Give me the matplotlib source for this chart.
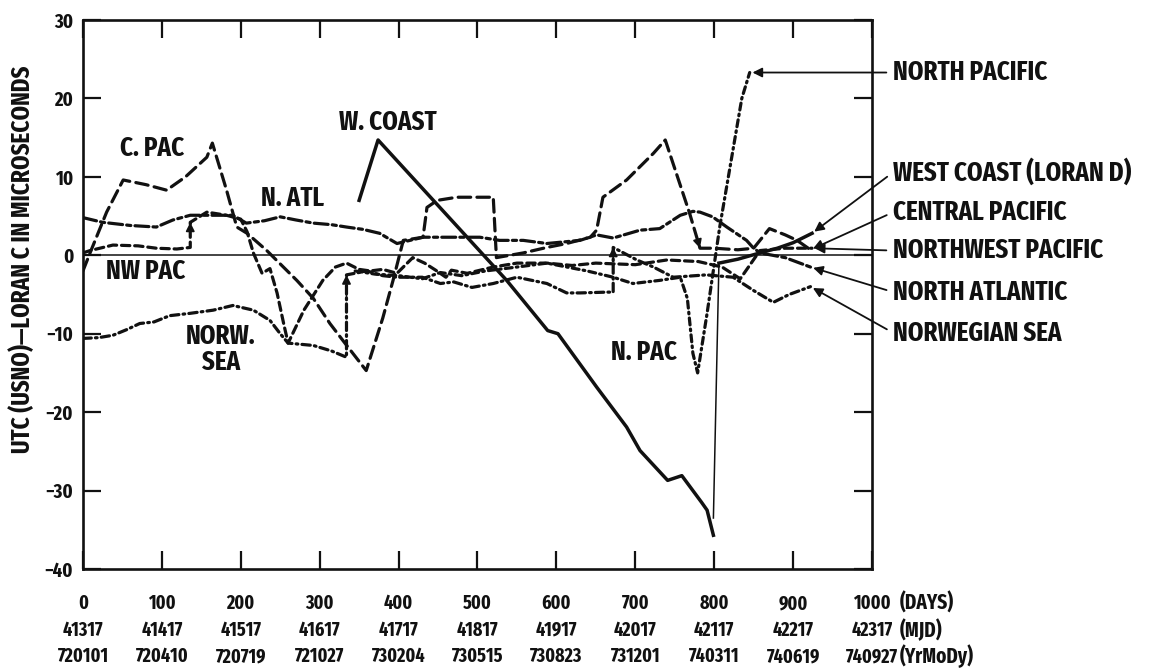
import os
import matplotlib
matplotlib.use("Agg")
import matplotlib.pyplot as plt
from matplotlib import font_manager
from matplotlib.font_manager import FontProperties

# the scan uses a heavy condensed gothic: look for the closest installed face


def _score(f):
    n = os.path.basename(f.fname).lower()
    if f.style != "normal" or "italic" in n:
        return -1
    if "extracondensed" in n:
        s = 3
    elif "semicondensed" in n:
        s = 1
    elif "condensed" in n or "narrow" in n:
        s = 2
    else:
        return -1
    w = f.weight if isinstance(f.weight, int) else 400
    s += {700: 3, 800: 2.6, 900: 2.2, 600: 1.5}.get(w, 0)
    return s


_fonts = sorted(font_manager.fontManager.ttflist, key=_score, reverse=True)
if _fonts and _score(_fonts[0]) >= 4:
    FONT_FILE = _fonts[0].fname
    FS = 14
    BIG = 19.5
else:
    FONT_FILE = None
    FS = 11
    BIG = 14

INK = "#111111"
plt.rcParams["lines.scale_dashes"] = False


def fp(size=None):
    size = size or FS
    if FONT_FILE:
        return FontProperties(fname=FONT_FILE, size=size)
    return FontProperties(family="DejaVu Sans", weight="bold", size=size)


# ---- data (days since 1972-01-01, microseconds) ----
CPAC_DAYS = [0, 9, 30, 51, 80, 106, 130, 157, 164, 182, 195, 208, 233, 271, 292, 313, 332, 359,
             380, 393, 406, 431, 436, 449, 474, 520, 524, 558, 588, 613, 643, 651, 659, 689, 723,
             738, 769, 782, 800, 830, 850, 870, 890, 905, 922]
CPAC_VALS = [-2.0, 0.3, 5.5, 9.6, 9.0, 8.3, 10.0, 12.5, 14.3, 8.3, 3.6, 2.8, 0.6, -3.2, -5.5, -8.7,
             -11.2, -14.7, -8.0, -3.2, 1.9, 2.3, 6.1, 7.0, 7.4, 7.4, -0.3, 0.3, 1.0, 1.5, 2.3, 3.2,
             7.4, 9.6, 13.0, 14.7, 5.3, 0.9, 0.9, 0.7, 0.9, 3.4, 2.6, 1.9, 0.7]

NWPAC_DAYS = [0, 9, 38, 70, 93, 119, 136, 136, 157, 182, 200, 208, 216, 227, 237, 246, 255, 260,
              280, 304, 320, 334, 350, 364, 380, 398, 418, 433, 447, 460, 467, 487, 520, 550, 588,
              620, 650, 700, 740, 780, 810, 833, 858, 890, 924]
NWPAC_VALS = [0.3, 0.6, 1.3, 1.2, 0.9, 0.8, 1.0, 4.2, 5.5, 5.1, 4.6, 3.0, 0.3, -2.3, -1.7, -4.8,
              -9.0, -11.2, -7.0, -3.2, -1.5, -1.0, -1.8, -2.0, -1.8, -2.3, -0.3, -1.0, -1.9, -2.8,
              -1.9, -2.3, -1.5, -1.0, -1.0, -1.3, -1.0, -1.2, -0.6, -0.8, -1.5, -3.0, 0.6, 0.9, 0.9]

NATL_DAYS = [0, 25, 60, 93, 114, 136, 165, 190, 207, 230, 250, 270, 292, 315, 334, 355, 376, 398,
             431, 460, 487, 503, 528, 558, 588, 630, 651, 672, 706, 731, 757, 773, 782, 798, 816,
             841, 849, 858, 890, 922]
NATL_VALS = [4.8, 4.2, 3.8, 3.6, 4.5, 5.1, 5.1, 5.1, 4.1, 4.4, 4.9, 4.5, 4.1, 3.9, 3.6, 3.3, 2.8,
             1.5, 2.3, 2.3, 2.3, 2.3, 1.9, 1.9, 1.5, 1.9, 2.6, 2.2, 3.2, 3.4, 5.1, 5.6, 5.5, 4.9,
             3.6, 1.9, 1.0, 0.3, -0.3, -1.5]

NORW_DAYS = [0, 20, 38, 55, 72, 90, 110, 136, 165, 190, 216, 237, 250, 260, 292, 315, 334, 334,
             360, 380, 398, 430, 453, 470, 493, 520, 550, 588, 613, 630, 664, 672, 672, 702, 723,
             748, 790, 824, 850, 875, 895, 922]
NORW_VALS = [-10.6, -10.5, -10.2, -9.5, -8.7, -8.5, -7.7, -7.4, -7.0, -6.4, -7.0, -8.3, -10.0,
             -11.2, -11.5, -12.2, -13.0, -2.5, -2.0, -2.6, -2.8, -2.8, -3.6, -3.4, -4.1, -3.6,
             -2.8, -3.6, -4.8, -4.8, -4.7, -4.7, 1.0, -0.6, -1.5, -2.8, -2.5, -2.8, -4.5, -6.0,
             -5.0, -4.0]

NPAC_DAYS = [345, 370, 400, 430, 453, 480, 510, 550, 588, 639, 672, 697, 731, 757, 766, 773, 779,
             791, 807, 820, 835, 845]
NPAC_VALS = [-2.0, -2.4, -2.6, -3.0, -2.2, -2.6, -2.0, -1.5, -1.0, -2.0, -2.8, -3.6, -3.2, -2.8,
             -5.5, -12.5, -15.0, -7.4, 3.6, 11.2, 20.0, 23.3]

WC_DAYS = [350, 374, 537, 589, 602, 651, 689, 706, 741, 759, 784, 791, 799]
WC_VALS = [7.0, 14.7, -3.2, -9.6, -10.0, -16.8, -21.9, -24.9, -28.7, -28.1, -31.5, -32.5, -35.7]
WC_JUMP_DAYS = [799, 806]
WC_JUMP_VALS = [-33.5, -1.0]
WC_LATE_DAYS = [806, 830, 858, 880, 900, 924]
WC_LATE_VALS = [-1.0, -0.5, 0.3, 0.9, 1.6, 2.8]

DAY_TICKS = [0, 100, 200, 300, 400, 500, 600, 700, 800, 900, 1000]
MJD_LABELS = ["41317", "41417", "41517", "41617", "41717", "41817", "41917", "42017", "42117",
              "42217", "42317"]
DATE_LABELS = ["720101", "720410", "720719", "721027", "730204", "730515", "730823", "731201",
               "740311", "740619", "740927"]
UNIT_LABELS = ["(DAYS)", "(MJD)", "(YrMoDy)"]
Y_TICKS = [-40, -30, -20, -10, 0, 10, 20, 30]


def draw(ax, days, vals, dashes=None, lw=2.3, arrow_at=()):
    line, = ax.plot(days, vals, color=INK, lw=lw, solid_joinstyle="round",
                    dash_joinstyle="round", dash_capstyle="round")
    if dashes:
        line.set_dashes(dashes)
    # arrowheads on the step corrections
    idx = [i for i in range(1, len(days)) if days[i] == days[i - 1]] + list(arrow_at)
    for i in idx:
        x0 = days[i] - 0.3 * (days[i] - days[i - 1])
        y0 = vals[i] - 0.3 * (vals[i] - vals[i - 1])
        ax.annotate("", xy=(days[i], vals[i]), xytext=(x0, y0),
                    arrowprops=dict(arrowstyle="-|>", color=INK, lw=1.2, mutation_scale=13,
                                    shrinkA=0, shrinkB=0))


fig = plt.figure(figsize=(11.65, 6.68), dpi=100)
ax = fig.add_axes([0.0712, 0.1482, 0.6773, 0.8219])
ax.set_xlim(0, 1000)
ax.set_ylim(-40, 30)

ax.axhline(0, color=INK, lw=1.1)

draw(ax, CPAC_DAYS, CPAC_VALS, dashes=(9, 4.5), arrow_at=[CPAC_DAYS.index(782)])
draw(ax, NWPAC_DAYS, NWPAC_VALS, dashes=(6, 3.5))
draw(ax, NATL_DAYS, NATL_VALS, dashes=(10, 3, 3, 3))
draw(ax, NORW_DAYS, NORW_VALS, dashes=(6, 3, 1.2, 3))
draw(ax, NPAC_DAYS, NPAC_VALS, dashes=(5, 3, 1.2, 3))
draw(ax, WC_DAYS, WC_VALS, lw=2.5)
ax.plot(WC_JUMP_DAYS, WC_JUMP_VALS, color=INK, lw=1.1)
draw(ax, WC_LATE_DAYS, WC_LATE_VALS, lw=2.5)

# in-plot labels
for txt, x, y in [("C. PAC", 88, 13.6), ("N. ATL", 265, 7.3), ("W. COAST", 387, 17.0),
                  ("NW PAC", 79, -2.0), ("NORW.\nSEA", 175, -12.0), ("N. PAC", 711, -12.4)]:
    ax.text(x, y, txt, ha="center", va="center", fontproperties=fp(BIG), color=INK,
            linespacing=1.0)

# right-hand legend with leader arrows
ends = [("NORTH PACIFIC", NPAC_DAYS, NPAC_VALS, 23.3),
        ("WEST COAST (LORAN D)", WC_LATE_DAYS, WC_LATE_VALS, 10.6),
        ("CENTRAL PACIFIC", CPAC_DAYS, CPAC_VALS, 5.5),
        ("NORTHWEST PACIFIC", NWPAC_DAYS, NWPAC_VALS, 0.6),
        ("NORTH ATLANTIC", NATL_DAYS, NATL_VALS, -4.7),
        ("NORWEGIAN SEA", NORW_DAYS, NORW_VALS, -9.9)]
for txt, d, v, ty in ends:
    ax.annotate(txt, xy=(d[-1], v[-1]), xytext=(1027, ty), textcoords="data",
                ha="left", va="center", fontproperties=fp(BIG), color=INK,
                annotation_clip=False,
                arrowprops=dict(arrowstyle="-|>", color=INK, lw=1.3, mutation_scale=14,
                                shrinkA=3, shrinkB=2, relpos=(0, 0.5)))

ax.set_xticks(DAY_TICKS)
ax.set_xticklabels([f"{d}\n{m}\n{s}" for d, m, s in zip(DAY_TICKS, MJD_LABELS, DATE_LABELS)],
                   linespacing=1.45)
ax.set_yticks(Y_TICKS)
ax.tick_params(axis="both", which="major", direction="in", length=13, width=1.6,
               top=True, right=True, colors=INK)
ax.tick_params(axis="x", pad=18)
ax.tick_params(axis="y", pad=7)
for lab in ax.get_xticklabels():
    lab.set_fontproperties(fp())
for lab in ax.get_yticklabels():
    lab.set_fontproperties(fp(FS + 0.5))
for s in ax.spines.values():
    s.set_linewidth(1.9)
    s.set_color(INK)

# units column to the right of the tick label rows
for unit, ypx in zip(UNIT_LABELS, [603, 630, 656]):
    fig.text(900 / 1165, 1 - ypx / 668, unit, ha="left", va="center",
             fontproperties=fp(FS + 1), color=INK)

fig.text(0.019, 0.612, "UTC (USNO)\u2014LORAN C IN MICROSECONDS", rotation=90,
         ha="center", va="center", fontproperties=fp(18), color=INK)

fig.savefig("out.png", dpi=100)
